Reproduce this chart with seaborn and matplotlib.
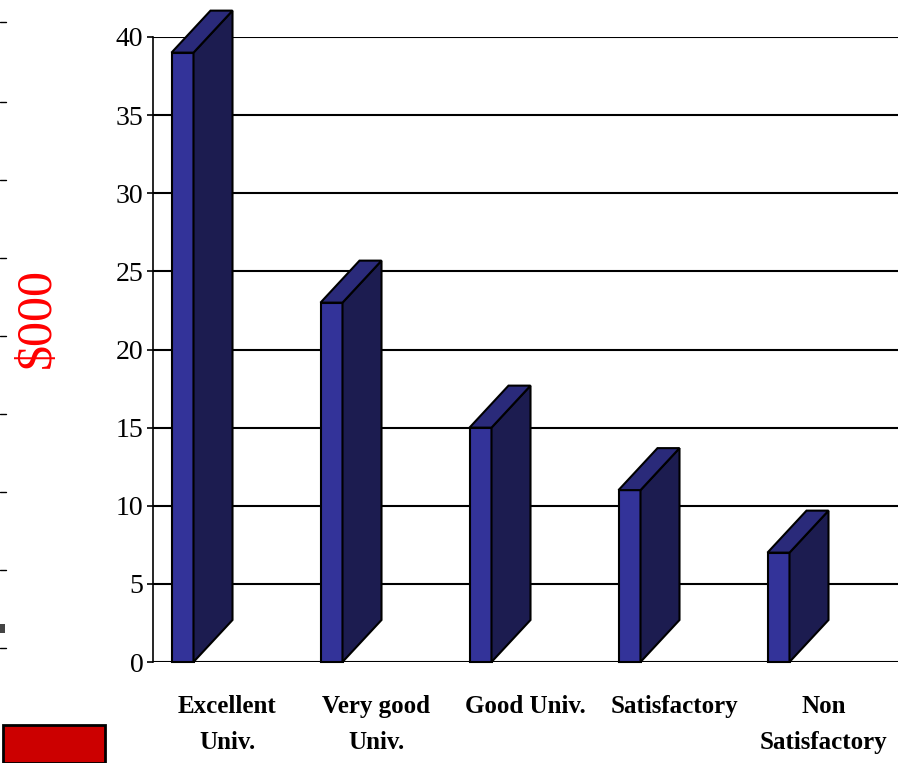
import matplotlib.pyplot as plt
import pandas as pd
import seaborn as sns
from matplotlib.lines import Line2D
from matplotlib.patches import Polygon, Rectangle

categories = ["Excellent\nUniv.", "Very good\nUniv.", "Good Univ.", "Satisfactory", "Non\nSatisfactory"]
values = [39, 23, 15, 11, 7]
y_ticks = [0, 5, 10, 15, 20, 25, 30, 35, 40]

FRONT = "#333399"
SIDE = "#1C1C50"
TOP = "#2A2A7A"


def main():
    sns.set_style("white")
    plt.rcParams["font.family"] = ["Liberation Serif", "DejaVu Serif"]
    plt.rcParams["text.color"] = "black"
    plt.rcParams["xtick.color"] = "black"
    plt.rcParams["ytick.color"] = "black"

    data = pd.DataFrame({"category": categories, "value": values})

    fig = plt.figure(figsize=(8.98, 7.63), dpi=100)
    ax = fig.add_axes([153 / 898, 1 - 662 / 763, 1 - 153 / 898, (662 - 37) / 763])

    bar_w = 22 / 149
    shift = -45 / 149
    dx = 39 / 149
    dy = 42 / 15.625

    sns.barplot(
        data=data,
        x="category",
        y="value",
        color=FRONT,
        saturation=1,
        width=bar_w,
        edgecolor="black",
        linewidth=1.5,
        ax=ax,
        zorder=3,
    )

    # fake 3D: shift the front faces left, add side and top faces
    for patch in ax.patches[: len(values)]:
        patch.set_x(patch.get_x() + shift)
        patch.set_clip_on(False)
        x0 = patch.get_x()
        w = patch.get_width()
        h = patch.get_height()
        side = Polygon(
            [(x0 + w, 0), (x0 + w + dx, dy), (x0 + w + dx, h + dy), (x0 + w, h)],
            closed=True, facecolor=SIDE, edgecolor="black", linewidth=1.5,
            zorder=3, clip_on=False,
        )
        top = Polygon(
            [(x0, h), (x0 + dx, h + dy), (x0 + w + dx, h + dy), (x0 + w, h)],
            closed=True, facecolor=TOP, edgecolor="black", linewidth=1.5,
            zorder=3, clip_on=False,
        )
        ax.add_patch(side)
        ax.add_patch(top)

    ax.set_xlim(-0.5, len(values) - 0.5)
    ax.set_ylim(0, 40)
    ax.set_yticks(y_ticks)
    ax.set_yticklabels([str(t) for t in y_ticks], fontsize=20)
    ax.yaxis.grid(True, color="black", linewidth=1.5)
    ax.set_axisbelow(True)

    ax.tick_params(axis="y", left=True, length=4, width=1.2, color="black", pad=3)
    ax.tick_params(axis="x", bottom=False, pad=20)
    for lbl in ax.get_xticklabels():
        lbl.set_fontsize(18)
        lbl.set_fontweight("bold")
        lbl.set_linespacing(1.75)
    ax.set_xlabel("")
    ax.set_ylabel("")

    for name in ["top", "right", "bottom"]:
        ax.spines[name].set_visible(False)
    ax.spines["left"].set_color("black")
    ax.spines["left"].set_linewidth(1.2)

    fig.text(38 / 898, 1 - 318 / 763, "$000", color="red", fontsize=36,
             rotation=90, ha="center", va="center")

    # leftover fragments at the left edge of the slide
    for py in [22, 102, 180, 258, 336, 414, 492, 570, 648]:
        fig.add_artist(Line2D([0, 6 / 898], [1 - py / 763] * 2, color="black", linewidth=1))
    fig.add_artist(Rectangle((0, 1 - 633 / 763), 5 / 898, 9 / 763,
                             facecolor="#444444", edgecolor="none"))
    fig.add_artist(Rectangle((3 / 898, 0), 102 / 898, 38 / 763,
                             facecolor="#CC0000", edgecolor="black", linewidth=2))

    fig.savefig("out.png", dpi=100)
    plt.close(fig)


if __name__ == "__main__":
    main()
